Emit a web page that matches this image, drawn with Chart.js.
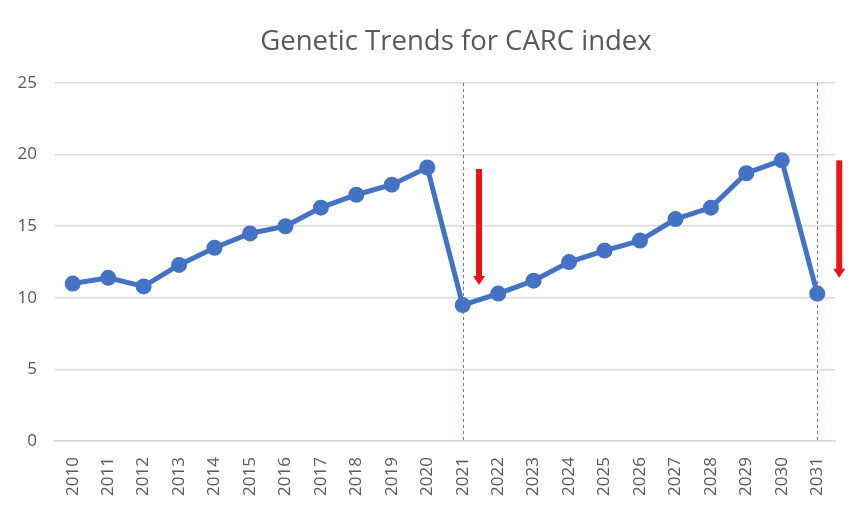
<!DOCTYPE html>
<html>
<head>
<meta charset="utf-8">
<script src="https://cdn.jsdelivr.net/npm/chart.js@4/dist/chart.umd.min.js"></script>
<style>
  html, body { margin: 0; padding: 0; background: #fff; }
  #wrap { width: 861px; height: 510px; }
</style>
</head>
<body>
<div id="wrap"><canvas id="chart" width="861" height="510"></canvas></div>
<script>
// Datos
const years = ['2010','2011','2012','2013','2014','2015','2016','2017','2018','2019','2020',
               '2021','2022','2023','2024','2025','2026','2027','2028','2029','2030','2031'];
const carc = [11.0, 11.4, 10.8, 12.3, 13.5, 14.5, 15.0, 16.3, 17.2, 17.9, 19.1,
              9.5, 10.3, 11.2, 12.5, 13.3, 14.0, 15.5, 16.3, 18.7, 19.6, 10.3];
const yTicks = [0, 5, 10, 15, 20, 25];
const markerYears = ['2021', '2031'];
// flechas: posición en índice de categoría, valor superior e inferior
const arrowPos = [11.46, 21.62];
const arrowTop = [19.0, 19.6];
const arrowBottom = [10.9, 11.4];
const titleText = 'Genetic Trends for CARC index';

const textColor = '#595959';

// Título, líneas verticales punteadas y flechas rojas
const overlay = {
    id: 'overlay',
    afterDatasetsDraw(chart) {
        const { ctx, chartArea, scales: { x, y } } = chart;
        ctx.save();
        ctx.strokeStyle = '#5b7fc7';
        ctx.lineWidth = 1;
        ctx.setLineDash([3, 3]);
        markerYears.forEach(yr => {
            const px = Math.round(x.getPixelForValue(years.indexOf(yr))) + 0.5;
            ctx.beginPath();
            ctx.moveTo(px, chartArea.top);
            ctx.lineTo(px, chartArea.bottom);
            ctx.stroke();
        });
        ctx.setLineDash([]);
        arrowPos.forEach((pos, i) => {
            const px = x.getPixelForValue(pos);
            const top = y.getPixelForValue(arrowTop[i]);
            const bot = y.getPixelForValue(arrowBottom[i]);
            ctx.fillStyle = '#e8141a';
            ctx.fillRect(px - 3, top, 6, bot - top - 8);
            ctx.beginPath();
            ctx.moveTo(px - 6, bot - 9);
            ctx.lineTo(px + 6, bot - 9);
            ctx.lineTo(px, bot);
            ctx.closePath();
            ctx.fill();
        });
        ctx.fillStyle = textColor;
        ctx.font = '27.5px "Open Sans"';
        ctx.textAlign = 'center';
        ctx.textBaseline = 'middle';
        ctx.fillText(titleText, 456, 42);
        ctx.restore();
    }
};

new Chart(document.getElementById('chart').getContext('2d'), {
    type: 'line',
    data: {
        labels: years,
        datasets: [{
            data: carc,
            borderColor: '#4472c4',
            backgroundColor: '#4472c4',
            borderWidth: 5,
            pointRadius: 5.5,
            pointHoverRadius: 5.5,
            tension: 0
        }]
    },
    options: {
        responsive: false,
        animation: false,
        layout: { padding: { left: 8, right: 26, top: 83, bottom: 6 } },
        plugins: {
            legend: { display: false },
            tooltip: { enabled: false },
            title: { display: false }
        },
        scales: {
            x: {
                offset: true,
                grid: { display: false },
                border: { color: '#d9d9d9', width: 1.5 },
                ticks: {
                    color: textColor,
                    font: { family: 'Open Sans', size: 17 },
                    maxRotation: 90,
                    minRotation: 90,
                    autoSkip: false,
                    padding: 8
                }
            },
            y: {
                min: 0,
                max: 25,
                afterBuildTicks: s => { s.ticks = yTicks.map(v => ({ value: v })); },
                afterFit: s => { s.width = 47; },
                grid: { color: '#d9d9d9', lineWidth: 1.5, drawTicks: false },
                border: { display: false },
                ticks: {
                    color: textColor,
                    font: { family: 'Open Sans', size: 17 },
                    padding: 18
                }
            }
        }
    },
    plugins: [overlay]
});
</script>
</body>
</html>
